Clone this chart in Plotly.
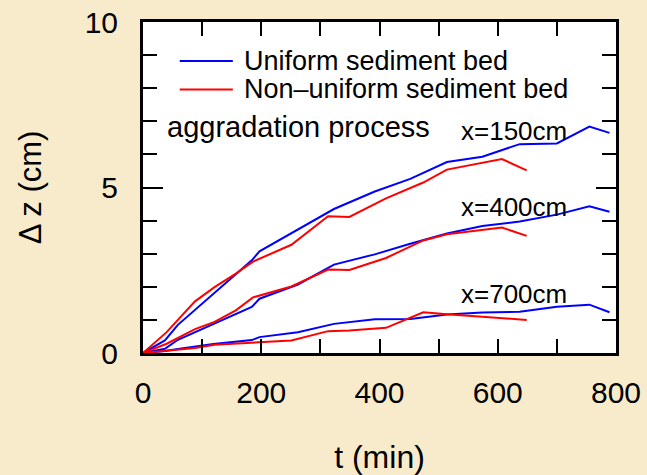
import plotly.graph_objects as go

# Elapsed time (min) at each survey
t_uniform = [0, 37, 59, 119, 184, 197, 262, 323, 392, 452, 514, 574, 637, 700, 755, 789]
t_nonuniform = [0, 40, 88, 121, 157, 186, 251, 313, 349, 411, 474, 514, 607, 649]

# Bed elevation change (cm), uniform sediment bed
dz_uniform_150 = [0, 0.38, 0.85, 1.79, 2.80, 3.07, 3.73, 4.35, 4.88, 5.26, 5.77, 5.93, 6.31, 6.33, 6.84, 6.65]
dz_uniform_400 = [0, 0.13, 0.40, 0.87, 1.39, 1.64, 2.07, 2.67, 2.98, 3.30, 3.61, 3.84, 3.97, 4.18, 4.43, 4.27]
dz_uniform_700 = [0, 0.06, 0.12, 0.27, 0.39, 0.48, 0.63, 0.88, 1.02, 1.03, 1.16, 1.22, 1.25, 1.40, 1.46, 1.23]

# Bed elevation change (cm), non-uniform sediment bed
dz_nonuni_150 = [0, 0.63, 1.56, 1.99, 2.40, 2.76, 3.27, 4.13, 4.11, 4.67, 5.15, 5.54, 5.86, 5.52]
dz_nonuni_400 = [0, 0.28, 0.72, 0.94, 1.29, 1.68, 2.01, 2.52, 2.51, 2.87, 3.40, 3.59, 3.79, 3.54]
dz_nonuni_700 = [0, 0.06, 0.15, 0.25, 0.29, 0.33, 0.38, 0.66, 0.68, 0.76, 1.23, 1.17, 1.06, 1.00]

station_labels = ["x=150cm", "x=400cm", "x=700cm"]
station_label_z = [6.70, 4.40, 1.77]

x_tickvals = [0, 100, 200, 300, 400, 500, 600, 700, 800]
x_ticktext = ["0", "", "200", "", "400", "", "600", "", "800"]

BLUE = "#0000FF"
RED = "#FF0000"
FONT = "Liberation Sans, Arial, Helvetica, sans-serif"

fig = go.Figure()

for dz in (dz_uniform_150, dz_uniform_400, dz_uniform_700):
    fig.add_trace(go.Scatter(x=t_uniform, y=dz, mode="lines",
                             line=dict(color=BLUE, width=2), showlegend=False))
for dz in (dz_nonuni_150, dz_nonuni_400, dz_nonuni_700):
    fig.add_trace(go.Scatter(x=t_nonuniform, y=dz, mode="lines",
                             line=dict(color=RED, width=2), showlegend=False))

# Key drawn inside the frame
PLOT_W, PLOT_H = 472.4, 331.3
def px_to_paper(px, py):
    return (px - 143.3) / PLOT_W, (353.3 - py) / PLOT_H

key_items = [("Uniform sediment bed", BLUE, 61.0), ("Non\u2013uniform sediment bed", RED, 89.5)]
for label, color, py in key_items:
    x0, y0 = px_to_paper(180, py)
    x1, _ = px_to_paper(233, py)
    fig.add_shape(type="line", xref="paper", yref="paper", x0=x0, x1=x1, y0=y0, y1=y0,
                  line=dict(color=color, width=2))
    tx, _ = px_to_paper(242, py)
    fig.add_annotation(xref="paper", yref="paper", x=tx, y=y0, text=label, showarrow=False,
                       xanchor="left", yanchor="middle", font=dict(size=27, color="black", family=FONT))

fig.add_annotation(x=38, y=6.83, text="aggradation process", showarrow=False,
                   xanchor="left", yanchor="middle", font=dict(size=29, color="black", family=FONT))
for label, z in zip(station_labels, station_label_z):
    fig.add_annotation(x=534, y=z, text=label, showarrow=False,
                       xanchor="left", yanchor="middle", font=dict(size=26, color="black", family=FONT))

axis_common = dict(showgrid=False, zeroline=False, showline=True, linecolor="black", linewidth=3,
                   mirror="ticks", ticks="inside", tickcolor="black", tickwidth=2,
                   tickfont=dict(size=30, color="black", family=FONT))

fig.update_xaxes(range=[0, 800], tickmode="array", tickvals=x_tickvals, ticktext=x_ticktext,
                 ticklen=14, ticklabelstandoff=11,
                 title=dict(text="t (min)", font=dict(size=32, color="black", family=FONT), standoff=39),
                 **axis_common)
fig.update_yaxes(range=[0, 10], tickmode="array", tickvals=[0, 5, 10], ticklen=20,
                 minor=dict(dtick=1, ticks="inside", ticklen=14, tickwidth=2, tickcolor="black"),
                 ticklabelstandoff=16,
                 title=dict(text="\u0394 z (cm)", font=dict(size=31, color="black", family=FONT), standoff=34),
                 **axis_common)

fig.update_layout(width=647, height=475, margin=dict(l=143, r=31, t=22, b=122, autoexpand=False),
                  paper_bgcolor="#F8EBCC", plot_bgcolor="white", showlegend=False)

fig.write_html("out.html")
